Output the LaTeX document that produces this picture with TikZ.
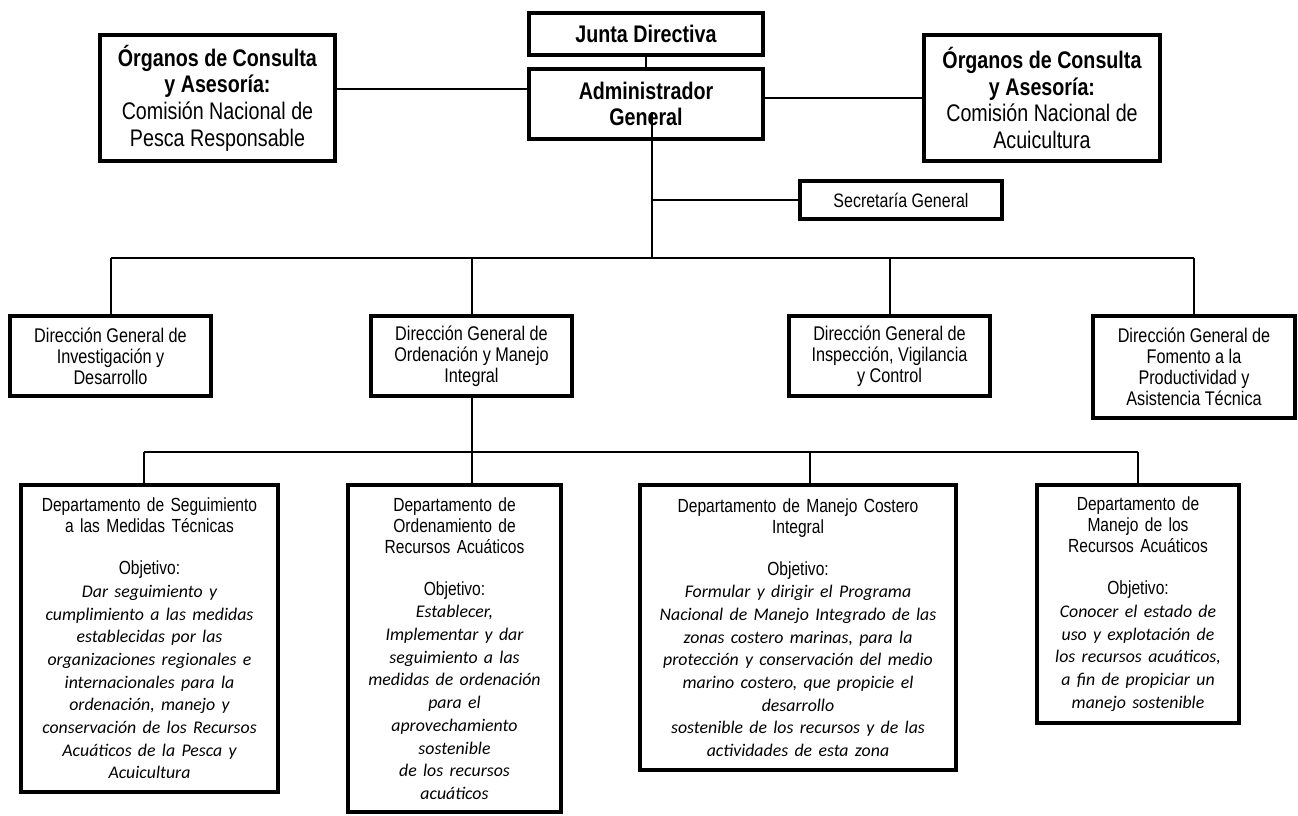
\documentclass[tikz,border=0pt]{standalone}
\usepackage{fontspec}
\setmainfont{Liberation Sans}[FakeStretch=0.82]
\newfontfamily\objfont{Carlito}
\usetikzlibrary{positioning}

\newcommand\bigtxt{\fontsize{24}{26.7}\selectfont}
\newcommand\midtxt{\fontsize{19.8}{21}\selectfont}
\newcommand\deptxt{\fontsize{19}{21}\selectfont}
\newcommand\objtxt{\objfont\itshape\fontsize{17.8}{22.7}\selectfont}

\begin{document}
\begin{tikzpicture}[x=1pt, y=-1pt,
    box/.style={draw, line width=4pt, align=center, inner sep=2pt, outer sep=0pt},
    head/.style={box, font=\bigtxt},
    unit/.style={box, font=\midtxt},
    dept/.style={box, font=\deptxt},
    link/.style={line width=2pt}]
    \useasboundingbox (0,0) rectangle (1298,815);

    % top level
    \node[head, minimum width=234, minimum height=42] (junta) at (646,34) {\textbf{Junta Directiva}};
    \node[head, minimum width=234, minimum height=70] (admin) at (646,104) {\textbf{Administrador}\\\textbf{General}};
    \node[head, minimum width=235, minimum height=126] (orgL) at (217.5,98) {\textbf{Órganos de Consulta}\\\textbf{y Asesoría:}\\Comisión Nacional de\\Pesca Responsable};
    \node[head, minimum width=236, minimum height=126] (orgR) at (1042,98) {\textbf{Órganos de Consulta}\\\textbf{y Asesoría:}\\Comisión Nacional de\\Acuicultura};
    \node[unit, minimum width=202, minimum height=38, font=\fontsize{19.5}{21}\selectfont] (secre) at (901,200) {Secretaría General};

    % direcciones generales
    \node[unit, minimum width=201, minimum height=80] (dg1) at (110.5,356) {Dirección General de\\Investigación y\\Desarrollo};
    \node[unit, minimum width=201, minimum height=80] (dg2) at (471.5,356) {Dirección General de\\Ordenación y Manejo\\Integral};
    \node[unit, minimum width=201, minimum height=80] (dg3) at (889.5,356) {Dirección General de\\Inspección, Vigilancia\\y Control};
    \node[unit, minimum width=202, minimum height=102] (dg4) at (1194,367) {Dirección General de\\Fomento a la\\Productividad y\\Asistencia Técnica};

    % departamentos
    \node[dept, minimum width=257, minimum height=307, text width=247] (dep1) at (149.5,638.5) {Departamento de Seguimiento\\a las Medidas Técnicas\\[21pt]Objetivo:\par
        {\objtxt Dar seguimiento y\\cumplimiento a las medidas\\establecidas por las\\organizaciones regionales e\\internacionales para la\\ordenación, manejo y\\conservación de los Recursos\\Acuáticos de la Pesca y\\Acuicultura\par}};
    \node[dept, minimum width=213, minimum height=327, text width=203] (dep2) at (454.5,648.5) {Departamento de\\Ordenamiento de\\Recursos Acuáticos\\[21pt]Objetivo:\par
        {\objtxt Establecer,\\Implementar y dar\\seguimiento a las\\medidas de ordenación\\para el\\aprovechamiento\\sostenible\\de los recursos\\acuáticos\par}};
    \node[dept, minimum width=316, minimum height=285, text width=306] (dep3) at (798,627.5) {Departamento de Manejo Costero\\Integral\\[21pt]Objetivo:\par
        {\objtxt Formular y dirigir el Programa\\Nacional de Manejo Integrado de las\\zonas costero marinas, para la\\protección y conservación del medio\\marino costero, que propicie el\\desarrollo\\sostenible de los recursos y de las\\actividades de esta zona\par}};
    \node[dept, minimum width=202, minimum height=238, text width=192] (dep4) at (1138,604) {Departamento de\\Manejo de los\\Recursos Acuáticos\\[21pt]Objetivo:\par
        {\objtxt Conocer el estado de\\uso y explotación de\\los recursos acuáticos,\\a fin de propiciar un\\manejo sostenible\par}};

    % bus points
    \coordinate (bus) at (652,258);
    \coordinate (lbus) at (471.5,452);
    \coordinate (d1) at (144,452);
    \coordinate (d3) at (810,452);

    % connectors
    \draw[link] (junta.south) -- (admin.north);
    \draw[link] ([yshift=9pt]orgL.east) -- ([yshift=9pt]orgL.east -| admin.west);
    \draw[link] (orgR.west) -- (orgR.west -| admin.east);
    \draw[link] ([xshift=6pt,yshift=27pt]admin.south) -- (bus);
    \draw[link] (secre.west) -- (secre.west -| bus);
    \draw[link] (dg1.north |- bus) -- (dg4.north |- bus);
    \foreach \n in {dg1,dg2,dg3,dg4}
        \draw[link] (\n.north) -- (\n.north |- bus);
    \draw[link] (dg2.south) -- (lbus);
    \draw[link] (d1) -- (dep4.north |- lbus);
    \draw[link] (d1) -- (d1 |- dep1.north);
    \draw[link] (lbus) -- (lbus |- dep2.north);
    \draw[link] (d3) -- (d3 |- dep3.north);
    \draw[link] (dep4.north |- lbus) -- (dep4.north);
\end{tikzpicture}
\end{document}
